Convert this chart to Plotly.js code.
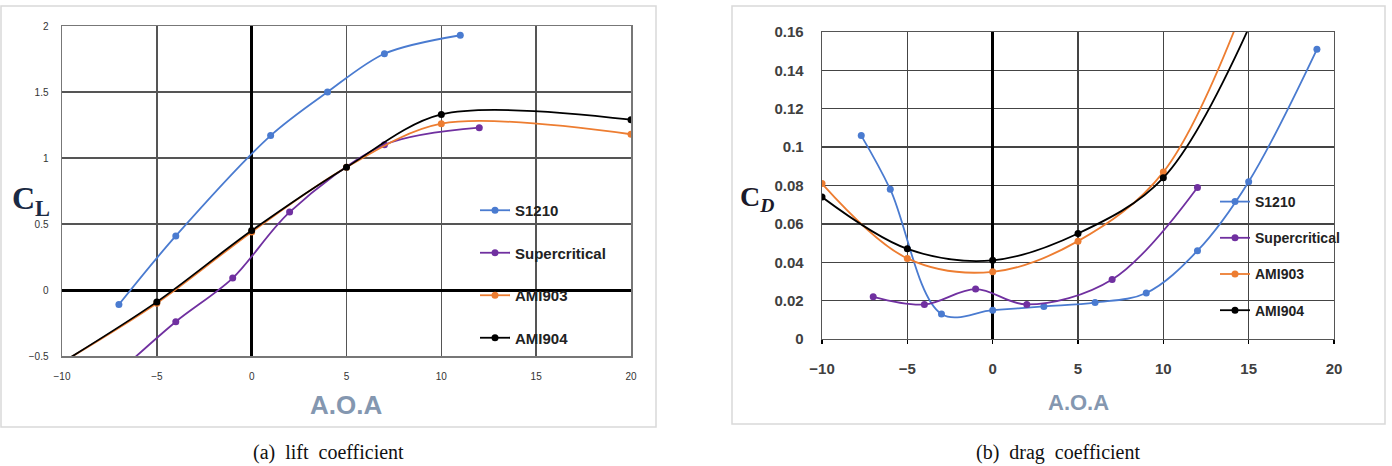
<!DOCTYPE html>
<html>
<head>
<meta charset="utf-8">
<script src="https://cdn.plot.ly/plotly-3.0.1.min.js"></script>
<style>html,body{margin:0;padding:0;background:#fff;}#chart{width:1392px;height:466px;}</style>
</head>
<body>
<div id="chart"></div>
<script>
// ---- Data ----
const seriesNames = ["S1210", "Supercritical", "AMI903", "AMI904"];
const seriesColors = ["#4a7bd0", "#7030a0", "#ed7d31", "#000000"];

// (a) lift coefficient C_L vs A.O.A
const clS1210_x = [-7, -4, 1, 4, 7, 11];
const clS1210_y = [-0.11, 0.41, 1.17, 1.50, 1.79, 1.93];
const clSuper_x = [-7, -4, -1, 2, 7, 12];
const clSuper_y = [-0.62, -0.24, 0.09, 0.59, 1.10, 1.23];
const clAMI903_x = [-10, -5, 0, 5, 10, 20];
const clAMI903_y = [-0.55, -0.10, 0.44, 0.93, 1.26, 1.18];
const clAMI904_x = [-10, -5, 0, 5, 10, 20];
const clAMI904_y = [-0.55, -0.09, 0.45, 0.93, 1.33, 1.29];

// (b) drag coefficient C_D vs A.O.A
const cdS1210_x = [-7.7, -6, -3, 0, 3, 6, 9, 12, 15, 19];
const cdS1210_y = [0.106, 0.078, 0.013, 0.015, 0.017, 0.019, 0.024, 0.046, 0.082, 0.151];
const cdSuper_x = [-7, -4, -1, 2, 7, 12];
const cdSuper_y = [0.022, 0.018, 0.026, 0.018, 0.031, 0.079];
const cdAMI903_x = [-10, -5, 0, 5, 10, 15];
const cdAMI903_y = [0.081, 0.042, 0.035, 0.051, 0.087, 0.180];
const cdAMI904_x = [-10, -5, 0, 5, 10, 15];
const cdAMI904_y = [0.074, 0.047, 0.041, 0.055, 0.084, 0.162];

const clX = [clS1210_x, clSuper_x, clAMI903_x, clAMI904_x];
const clY = [clS1210_y, clSuper_y, clAMI903_y, clAMI904_y];
const cdX = [cdS1210_x, cdSuper_x, cdAMI903_x, cdAMI904_x];
const cdY = [cdS1210_y, cdSuper_y, cdAMI903_y, cdAMI904_y];

const xTicks = [-10, -5, 0, 5, 10, 15, 20];
const clTicks = [-0.5, 0, 0.5, 1, 1.5, 2];
const cdTicks = [0, 0.02, 0.04, 0.06, 0.08, 0.1, 0.12, 0.14, 0.16];

// ---- Traces ----
const traces = [];
for (let i = 0; i < 4; i++) {
  traces.push({
    x: clX[i], y: clY[i], xaxis: 'x', yaxis: 'y', type: 'scatter', mode: 'lines+markers',
    name: seriesNames[i], legend: 'legend', legendgroup: 'a' + i,
    line: {color: seriesColors[i], width: 1.8, shape: 'spline', smoothing: 0.9},
    marker: {color: seriesColors[i], size: 7}
  });
}
for (let i = 0; i < 4; i++) {
  traces.push({
    x: cdX[i], y: cdY[i], xaxis: 'x2', yaxis: 'y2', type: 'scatter', mode: 'lines+markers',
    name: seriesNames[i], legend: 'legend2', legendgroup: 'b' + i,
    line: {color: seriesColors[i], width: 1.8, shape: 'spline', smoothing: 1},
    marker: {color: seriesColors[i], size: 7}
  });
}

const W = 1392, H = 466;
const px = v => v / W;
const py = v => (H - v) / H;

const tickFontA = {family: 'Liberation Sans', size: 10, color: '#333'};
const tickFontB = {family: 'Liberation Sans', size: 15, color: '#404040', weight: 'bold'};

const layout = {
  width: W, height: H,
  margin: {l: 0, r: 0, t: 0, b: 0},
  paper_bgcolor: '#fff', plot_bgcolor: '#fff',
  showlegend: true,
  xaxis: {
    domain: [px(62), px(631)], anchor: 'y', range: [-10, 20], tickvals: xTicks,
    showgrid: true, gridcolor: '#555', gridwidth: 1.5,
    zeroline: true, zerolinecolor: '#000', zerolinewidth: 3,
    showline: true, linecolor: '#777', linewidth: 1.5, mirror: true,
    ticks: '', tickfont: tickFontA, ticklabelstandoff: 10, fixedrange: true
  },
  yaxis: {
    domain: [py(356), py(26)], anchor: 'x', range: [-0.5, 2], tickvals: clTicks,
    showgrid: true, gridcolor: '#555', gridwidth: 1.5,
    zeroline: true, zerolinecolor: '#000', zerolinewidth: 3,
    showline: true, linecolor: '#777', linewidth: 1.5, mirror: true,
    ticks: '', tickfont: tickFontA, ticklabelstandoff: 10, fixedrange: true
  },
  xaxis2: {
    domain: [px(822), px(1334)], anchor: 'y2', range: [-10, 20], tickvals: xTicks,
    showgrid: true, gridcolor: '#444', gridwidth: 1.3,
    zeroline: true, zerolinecolor: '#000', zerolinewidth: 2.5,
    showline: true, linecolor: '#555', linewidth: 1.3, mirror: true,
    ticks: 'outside', ticklen: 4, tickcolor: '#000', tickwidth: 1.5,
    tickfont: tickFontB, ticklabelstandoff: 12, fixedrange: true
  },
  yaxis2: {
    domain: [py(339), py(32)], anchor: 'x2', range: [0, 0.16], tickvals: cdTicks,
    showgrid: true, gridcolor: '#444', gridwidth: 1.3,
    zeroline: true, zerolinecolor: '#000', zerolinewidth: 2.5,
    showline: true, linecolor: '#555', linewidth: 1.3, mirror: true,
    ticks: '', tickfont: tickFontB, ticklabelstandoff: 14, fixedrange: true
  },
  legend: {
    x: px(475), y: py(194), xanchor: 'left', yanchor: 'top',
    bgcolor: 'rgba(0,0,0,0)', borderwidth: 0, tracegroupgap: 20, traceorder: 'grouped',
    font: {family: 'Liberation Sans', size: 15, color: '#222', weight: 'bold'}
  },
  legend2: {
    x: px(1215), y: py(186), xanchor: 'left', yanchor: 'top',
    bgcolor: 'rgba(0,0,0,0)', borderwidth: 0, tracegroupgap: 15, traceorder: 'grouped',
    font: {family: 'Liberation Sans', size: 14, color: '#222', weight: 'bold'}
  },
  shapes: [
    {type: 'rect', xref: 'paper', yref: 'paper', x0: px(1), x1: px(656), y0: py(427), y1: py(6),
     line: {color: '#d9d9d9', width: 1.5}, layer: 'below'},
    {type: 'rect', xref: 'paper', yref: 'paper', x0: px(732), x1: px(1385), y0: py(424), y1: py(6),
     line: {color: '#d9d9d9', width: 1.5}, layer: 'below'}
  ],
  annotations: [
    {text: '<b>A.O.A</b>', xref: 'paper', yref: 'paper', x: px(346), y: py(405), showarrow: false,
     xanchor: 'center', yanchor: 'middle', font: {family: 'Liberation Sans', size: 26, color: '#8497b0'}},
    {text: '<b>A.O.A</b>', xref: 'paper', yref: 'paper', x: px(1078), y: py(402), showarrow: false,
     xanchor: 'center', yanchor: 'middle', font: {family: 'Liberation Sans', size: 22, color: '#8497b0'}},
    {text: '<b>C<sub>L</sub></b>', xref: 'paper', yref: 'paper', x: px(10), y: py(200), showarrow: false,
     xanchor: 'left', yanchor: 'middle', font: {family: 'Liberation Serif', size: 32, color: '#1a2a44'}},
    {text: '<b>C<sub><i>D</i></sub></b>', xref: 'paper', yref: 'paper', x: px(738), y: py(198), showarrow: false,
     xanchor: 'left', yanchor: 'middle', font: {family: 'Liberation Serif', size: 28, color: '#1a1a2a'}},
    {text: '(a)&#160; lift&#160; coefficient', xref: 'paper', yref: 'paper', x: px(328), y: py(452), showarrow: false,
     xanchor: 'center', yanchor: 'middle', font: {family: 'Liberation Serif', size: 20, color: '#111'}},
    {text: '(b)&#160; drag&#160; coefficient', xref: 'paper', yref: 'paper', x: px(1058), y: py(452), showarrow: false,
     xanchor: 'center', yanchor: 'middle', font: {family: 'Liberation Serif', size: 20, color: '#111'}}
  ]
};

Plotly.newPlot('chart', traces, layout, {staticPlot: true, displayModeBar: false});
</script>
</body>
</html>
